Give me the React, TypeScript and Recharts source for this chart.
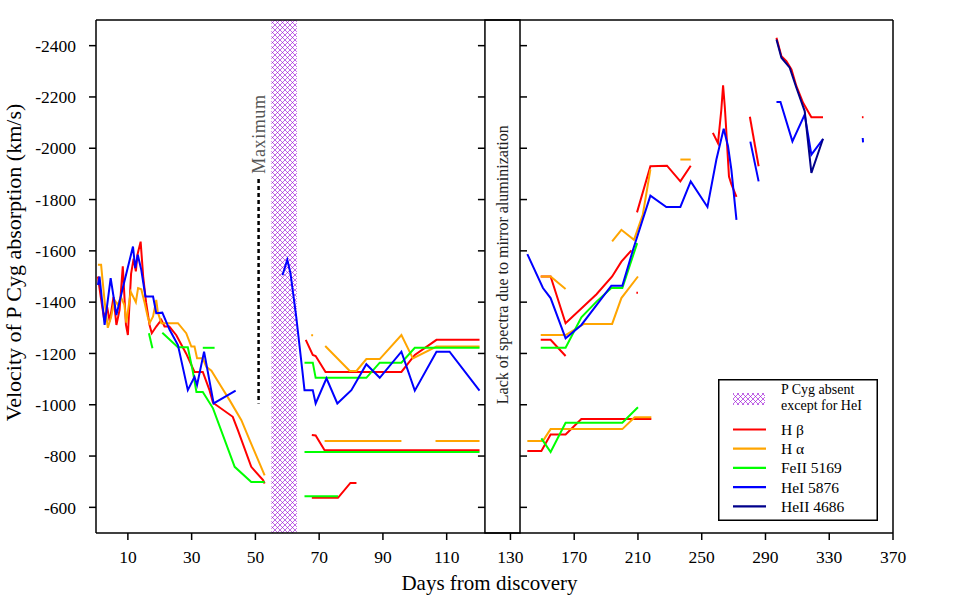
import React from "react";
import {
  ComposedChart,
  Line,
  XAxis,
  YAxis,
  ReferenceArea,
  ReferenceLine,
  Legend,
} from "recharts";

const FONT = "'Liberation Serif', 'Times New Roman', serif";

const C_HB = "#ff0000";
const C_HA = "#ffa500";
const C_FE = "#00ff00";
const C_HEI = "#0000ff";
const C_HEII = "#00008b";
const C_HATCH = "#9400d3";

// days after 130 are drawn at half scale (broken axis in the original)
const BREAK = 130;
const compress = (d: number) => (d <= BREAK ? d : BREAK + (d - BREAK) / 2);
const expand = (x: number) => (x <= BREAK ? x : BREAK + (x - BREAK) * 2);

const xTickDays = [10, 30, 50, 70, 90, 110, 130, 170, 210, 250, 290, 330, 370];
const yTicks = [-2400, -2200, -2000, -1800, -1600, -1400, -1200, -1000, -800, -600];
const Y_TOP = -2500;
const Y_BOTTOM = -500;

const pCygAbsent = [55, 63]; // days
const gapDays = [122, 136]; // mirror aluminization
const maximumDay = 51;
const maximumSpan = [-1880, -1005];

// [day, velocity] segments
const hBeta: number[][][] = [
  [[0.6, -1500], [1.5, -1420], [2.5, -1338], [3.5, -1380], [4.3, -1325], [5.5, -1420], [6.4, -1311], [7.4, -1370], [8.4, -1540], [9.4, -1311], [10, -1272], [11, -1510], [11.8, -1570], [12.5, -1520], [13, -1585], [14, -1636], [14.8, -1500], [15.7, -1400], [16.8, -1311], [17.5, -1279], [18.9, -1305], [20.5, -1331], [21.5, -1305], [23, -1305], [25.2, -1271], [28.3, -1199], [30.9, -1128], [33.5, -1128], [35.6, -1057], [36.7, -1008], [42.9, -953], [44.5, -901], [48.7, -758], [52.4, -706], [52.9, -693]],
  [[65.8, -1253], [68, -1194], [68.9, -1190], [72, -1128], [95.8, -1128], [100, -1194], [106.8, -1253], [120.3, -1253]],
  [[67.7, -882], [68.9, -880], [71.7, -823], [120.3, -823]],
  [[67.7, -637], [75.9, -637], [79.8, -695], [81.7, -695]],
  [[149, -1253], [155.2, -1253], [164.6, -1190]],
  [[149, -1500], [155.2, -1500], [164.6, -1318], [184, -1431], [193.8, -1500], [199.6, -1558], [205.9, -1602]],
  [[209, -1437], [210, -1437]],
  [[209.4, -1750], [217.8, -1930], [228.2, -1932], [236.6, -1871], [243.1, -1932]],
  [[257, -2060], [260.2, -2020], [262.3, -2150], [263.4, -2245], [264.5, -2160], [265.1, -2100], [267.1, -1890], [268.6, -1860], [271.8, -1810]],
  [[280.2, -2123], [285.7, -1930]],
  [[296.9, -2431], [300, -2359], [303.1, -2340], [306.3, -2307], [309.4, -2242], [313.6, -2177], [318.8, -2121], [326.1, -2121]],
  [[350.5, -2121], [351.5, -2121]],
  [[140.6, -820], [149.4, -820], [155.2, -884], [164.6, -884], [174.5, -944], [218.4, -944]],
];

const hAlpha: number[][][] = [
  [[0.6, -1546], [1.6, -1546], [2.1, -1480], [2.7, -1404], [3.7, -1300], [4.7, -1340], [5.8, -1409], [6.8, -1390], [7.8, -1420], [8.9, -1390], [9.5, -1320], [10.9, -1440], [12.5, -1400], [13.2, -1455], [14.2, -1450], [15.2, -1400], [16.2, -1344], [16.8, -1318], [17.9, -1344], [18.9, -1409], [19.4, -1360], [20.5, -1318], [25.7, -1318], [28.3, -1279], [29.9, -1227], [30.9, -1227], [31.7, -1181], [33.5, -1181], [34.6, -1148], [36.2, -1133], [39.3, -1070], [41.9, -1018], [45.6, -940], [48.2, -862], [52.9, -725]],
  [[67.5, -1271], [68.1, -1271]],
  [[71.9, -1229], [79.6, -1132], [81.7, -1132], [84.8, -1178], [89, -1178], [95.8, -1272], [99.4, -1181], [106.8, -1227], [120.3, -1227]],
  [[71.7, -859], [95.8, -859]],
  [[106.5, -859], [120.3, -859]],
  [[149, -1500], [155.2, -1500], [164.6, -1451]],
  [[149, -1272], [164.6, -1272], [176.1, -1315], [193.8, -1315], [199.6, -1416], [210, -1500]],
  [[193.8, -1637], [199.6, -1682], [207.5, -1643], [213, -1740], [217.8, -1917]],
  [[236.6, -1956], [243.1, -1956]],
  [[140.6, -859], [150.4, -859], [155.2, -905], [200.2, -905], [207.9, -951], [218.4, -951]],
];

const feII: number[][][] = [
  [[16.6, -1279], [17.7, -1220]],
  [[20.8, -1281], [25.7, -1224], [28.8, -1224], [30.4, -1128], [31.5, -1050], [33.5, -1050], [36.7, -986], [43.5, -758], [48.7, -699], [52.9, -699]],
  [[33.5, -1222], [37.2, -1222]],
  [[65.4, -1164], [68, -1164], [68.9, -1105], [84.8, -1105], [89, -1164], [95.8, -1164], [100, -1222], [120.3, -1222]],
  [[65.4, -816], [120.3, -816]],
  [[65.4, -643], [75.9, -643]],
  [[149, -1222], [164.6, -1222], [174.5, -1341], [184, -1402], [193.3, -1455], [200.2, -1455], [209.5, -1630]],
  [[149.4, -869], [155.2, -816], [164.6, -930], [200.2, -930], [210, -990]],
];

const heI: number[][][] = [
  [[0.6, -1467], [1.1, -1500], [2.7, -1311], [4.6, -1494], [6.4, -1350], [8.4, -1455], [11.6, -1617], [12.3, -1533], [13.1, -1585], [14.2, -1526], [15.5, -1422], [17.9, -1422], [18.9, -1357], [20.8, -1359], [23.1, -1292], [25.7, -1233], [28.8, -1057], [30.9, -1109], [31.7, -1077], [33.9, -1207], [36.9, -1005], [43.8, -1055]],
  [[58.5, -1505], [60, -1565], [61, -1513], [62.8, -1344], [64.7, -1136], [65.4, -1057], [68, -1057], [68.9, -1005], [72.3, -1103], [75.7, -1005], [80.1, -1057], [84.8, -1158], [89, -1105], [95.8, -1207], [100, -1055], [106.8, -1207], [110.9, -1207], [120.3, -1055]],
  [[140.6, -1587], [150.4, -1455], [155.2, -1416], [164.6, -1259], [174.5, -1311], [193.3, -1464], [200.2, -1464], [206.9, -1604], [217.8, -1815], [227.8, -1771], [236.6, -1771], [243.1, -1871], [253.6, -1771], [259.2, -1956], [263.8, -2076], [266.5, -2008], [268.6, -1917], [271.8, -1721]],
  [[280.5, -2026], [285.7, -1871]],
  [[296.9, -2180], [299.4, -2180], [306.9, -2027], [314.6, -2131], [318.8, -1975], [326.1, -2036]],
  [[351, -2040], [351.2, -2023]],
];

const heII: number[][][] = [
  [[296.9, -2424], [300, -2353], [305.2, -2314], [309.4, -2236], [314.6, -2145], [318.8, -1904], [326.1, -2037]],
];

const series = [
  { name: "H β", color: C_HB, segs: hBeta },
  { name: "H α", color: C_HA, segs: hAlpha },
  { name: "FeII 5169", color: C_FE, segs: feII },
  { name: "HeI 5876", color: C_HEI, segs: heI },
  { name: "HeII 4686", color: C_HEII, segs: heII },
];

const axisStroke = { stroke: "#000", strokeWidth: 1.5 };
const tickStyle = { fill: "#000", fontSize: 17.5, fontFamily: FONT };

function HatchPattern({ id }: { id: string }) {
  return (
    <pattern id={id} width={5} height={5} patternUnits="userSpaceOnUse">
      <path d="M0,0 L5,5 M5,0 L0,5" stroke={C_HATCH} strokeWidth={0.6} />
    </pattern>
  );
}

function HatchShape(props: any) {
  const { x, y, width, height } = props;
  return (
    <g>
      <defs>
        <HatchPattern id="pcygHatch" />
      </defs>
      <rect x={x} y={y} width={width} height={height} fill="url(#pcygHatch)" />
    </g>
  );
}

function GapShape(props: any) {
  const { x, y, width, height } = props;
  const cx = x + width / 2 + 0.5;
  const cy = y + height * 0.477;
  return (
    <g>
      <rect x={x} y={y} width={width} height={height} fill="#fff" stroke="#000" strokeWidth={1.5} />
      {yTicks.map((v) => {
        const ty = y + ((v - Y_TOP) / (Y_BOTTOM - Y_TOP)) * height;
        return (
          <g key={v}>
            <line x1={x - 7} x2={x} y1={ty} y2={ty} stroke="#000" strokeWidth={1.5} />
            <line x1={x + width} x2={x + width + 7} y1={ty} y2={ty} stroke="#000" strokeWidth={1.5} />
          </g>
        );
      })}
      <text
        x={cx}
        y={cy}
        transform={`rotate(-90 ${cx} ${cy})`}
        textAnchor="middle"
        dominantBaseline="central"
        fontFamily={FONT}
        fontSize={16}
        fill="#222"
      >
        Lack of spectra due to mirror aluminization
      </text>
    </g>
  );
}

function MaximumLabel(props: any) {
  const vb = props.viewBox || { x: 258, y: 180 };
  const cx = vb.x;
  const cy = vb.y - 45;
  return (
    <text
      x={cx}
      y={cy}
      transform={`rotate(-90 ${cx} ${cy})`}
      textAnchor="middle"
      dominantBaseline="central"
      fontFamily={FONT}
      fontSize={18}
      letterSpacing={0.6}
      fill="#555"
    >
      Maximum
    </text>
  );
}

function YLabel(props: any) {
  const { viewBox } = props;
  const cx = viewBox.x + 13;
  const cy = viewBox.y + viewBox.height / 2 - 14;
  return (
    <text
      x={cx}
      y={cy}
      transform={`rotate(-90 ${cx} ${cy})`}
      textAnchor="middle"
      dominantBaseline="central"
      fontFamily={FONT}
      fontSize={22}
      fill="#000"
    >
      Velocity of P Cyg absorption (km/s)
    </text>
  );
}

function XLabel(props: any) {
  const { viewBox } = props;
  return (
    <text
      x={viewBox.x + viewBox.width / 2 - 5}
      y={viewBox.y + 57}
      textAnchor="middle"
      fontFamily={FONT}
      fontSize={21}
      fill="#000"
    >
      Days from discovery
    </text>
  );
}

function LegendBox() {
  return (
    <svg width={160} height={142} style={{ display: "block" }}>
      <defs>
        <HatchPattern id="legendHatch" />
      </defs>
      <rect x={0.75} y={0.75} width={158.5} height={140.5} fill="#fff" stroke="#000" strokeWidth={1.5} />
      <rect x={15} y={14} width={32} height={12} fill="url(#legendHatch)" />
      <text x={63} y={14.8} fontFamily={FONT} fontSize={14} fill="#000">
        P Cyg absent
      </text>
      <text x={63} y={31} fontFamily={FONT} fontSize={14} fill="#000">
        except for HeI
      </text>
      {series.map((s, i) => {
        const ly = 50.5 + i * 19.2;
        return (
          <g key={s.name}>
            <line x1={15} x2={48} y1={ly} y2={ly} stroke={s.color} strokeWidth={2.2} />
            <text x={63} y={ly + 5.5} fontFamily={FONT} fontSize={15.5} fill="#000">
              {s.name}
            </text>
          </g>
        );
      })}
    </svg>
  );
}

export default function App() {
  const xTicks = xTickDays.map(compress);
  return (
    <div style={{ position: "absolute", left: 0, top: 0, width: 960, height: 600, background: "#fff" }}>
      <ComposedChart width={960} height={600} margin={{ top: 0, right: 0, bottom: 0, left: 0 }}>
        <XAxis
          xAxisId={0}
          dataKey="x"
          type="number"
          domain={[0, 250]}
          ticks={xTicks}
          tickFormatter={(v: number) => String(Math.round(expand(v)))}
          height={67}
          tickSize={7}
          tickMargin={11}
          tick={tickStyle}
          axisLine={axisStroke}
          tickLine={axisStroke}
          interval={0}
          label={XLabel}
        />
        <XAxis
          xAxisId="top"
          dataKey="x"
          type="number"
          orientation="top"
          domain={[0, 250]}
          ticks={xTicks}
          tickFormatter={() => ""}
          height={20}
          tickSize={7}
          axisLine={axisStroke}
          tickLine={axisStroke}
          interval={0}
        />
        <YAxis
          yAxisId={0}
          type="number"
          domain={[Y_TOP, Y_BOTTOM]}
          reversed
          ticks={yTicks}
          width={96}
          tickSize={7}
          tickMargin={13}
          tick={tickStyle}
          axisLine={axisStroke}
          tickLine={axisStroke}
          interval={0}
          label={YLabel}
        />
        <YAxis
          yAxisId="r"
          orientation="right"
          type="number"
          domain={[Y_TOP, Y_BOTTOM]}
          reversed
          ticks={yTicks}
          width={67}
          tickSize={7}
          tickMargin={13}
          tick={tickStyle}
          axisLine={axisStroke}
          tickLine={axisStroke}
          interval={0}
        />
        <ReferenceArea
          x1={compress(pCygAbsent[0])}
          x2={compress(pCygAbsent[1])}
          shape={HatchShape}
          ifOverflow="visible"
        />
        <ReferenceArea
          x1={compress(gapDays[0])}
          x2={compress(gapDays[1])}
          shape={GapShape}
          ifOverflow="visible"
        />
        <ReferenceLine
          segment={[
            { x: compress(maximumDay), y: maximumSpan[0] },
            { x: compress(maximumDay), y: maximumSpan[1] },
          ]}
          stroke="#000"
          strokeWidth={2.5}
          strokeDasharray="4 3"
          label={MaximumLabel}
        />
        {series.flatMap((s) =>
          s.segs.map((seg, i) => (
            <Line
              key={`${s.name}-${i}`}
              data={seg.map(([d, v]) => ({ x: compress(d), v }))}
              dataKey="v"
              type="linear"
              stroke={s.color}
              strokeWidth={2}
              dot={false}
              activeDot={false}
              legendType="none"
              isAnimationActive={false}
            />
          ))
        )}
        <Legend
          layout="horizontal"
          verticalAlign="middle"
          align="center"
          content={() => <LegendBox />}
          wrapperStyle={{ left: 718, top: 379, width: 160, height: 142 }}
        />
      </ComposedChart>
    </div>
  );
}
